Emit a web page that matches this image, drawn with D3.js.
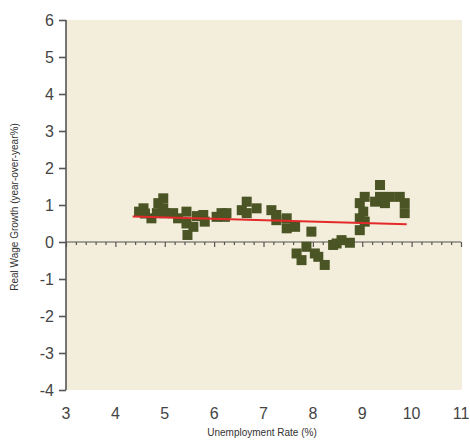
<!DOCTYPE html>
<html>
<head>
<meta charset="utf-8">
<script src="https://cdn.jsdelivr.net/npm/d3@7"></script>
<style>
body { margin: 0; background: #fff; }
text { font-family: "Liberation Sans", Arial, sans-serif; }
</style>
</head>
<body>
<svg id="chart" width="470" height="442"></svg>
<script>
// unemployment rate (%) vs real wage growth (y/y %)
const unemp = [4.48, 4.57, 4.60, 4.73, 4.84, 4.87, 4.97, 4.97, 5.00, 5.17, 5.27, 5.44, 5.44, 5.46, 5.58, 5.65, 5.78, 5.81,
	6.05, 6.15, 6.22, 6.25, 6.56, 6.66, 6.66, 6.86, 7.16, 7.26, 7.26, 7.47, 7.47, 7.64, 7.97, 7.67, 7.77, 7.87, 8.04, 8.11,
	8.24, 8.41, 8.48, 8.58, 8.75, 8.95, 8.95, 8.95, 9.02, 9.05, 9.05, 9.26, 9.36, 9.36, 9.46, 9.56, 9.76, 9.86, 9.86];
const wage = [0.82, 0.91, 0.77, 0.64, 0.78, 1.05, 1.18, 0.91, 0.78, 0.78, 0.64, 0.82, 0.50, 0.19, 0.41, 0.70, 0.73, 0.55,
	0.68, 0.78, 0.68, 0.78, 0.86, 1.09, 0.78, 0.91, 0.86, 0.73, 0.59, 0.64, 0.37, 0.41, 0.28, -0.31, -0.49, -0.13, -0.31, -0.40,
	-0.62, -0.08, -0.04, 0.05, -0.02, 0.32, 1.05, 0.64, 0.82, 1.22, 0.55, 1.09, 1.54, 1.22, 1.05, 1.22, 1.22, 1.05, 0.78];
const trendX = [4.35, 9.9];
const trendY = [0.69, 0.48];
const xTicks = [3, 4, 5, 6, 7, 8, 9, 10, 11];
const yTicks = [-4, -3, -2, -1, 0, 1, 2, 3, 4, 5, 6];

const chart = d3.select("#chart");
const margin = {left: 66, top: 20, right: 9, bottom: 52};
const width = 470, height = 442;

const x = d3.scaleLinear().domain([3, 11]).range([margin.left, width - margin.right]);
const y = d3.scaleLinear().domain([-4, 6]).range([height - margin.bottom, margin.top]);

chart.append("rect")
	.attr("x", x(3)).attr("y", y(6))
	.attr("width", x(11) - x(3) + 1).attr("height", y(-4) - y(6))
	.style("fill", "#f3eedb");

// zero line with ticks
const minor = d3.range(3, 11.001, 0.2);
const xAxis = d3.axisBottom(x).tickValues(minor).tickSize(3).tickFormat("");
const gx = chart.append("g").attr("transform", `translate(0,${y(0)})`).call(xAxis);
gx.selectAll(".tick line").attr("y2", (d) => Math.abs(d - Math.round(d)) < 0.01 ? 5 : 3);
gx.selectAll("path, line").style("stroke", "#555").style("stroke-width", 1.2);
gx.select(".domain").attr("d", `M${x(3)},0H${x(11)}`);

// x tick labels (no bottom axis line)
chart.append("g").selectAll("text")
	.data(xTicks).join("text")
	.attr("x", (d) => x(d)).attr("y", height - margin.bottom + 29)
	.style("text-anchor", "middle").style("font-size", "16px").style("fill", "#444")
	.text((d) => d);

const yAxis = d3.axisLeft(y).tickValues(yTicks).tickSize(7).tickPadding(5).tickFormat((d) => String(d));
const gy = chart.append("g").attr("transform", `translate(${margin.left},0)`).call(yAxis);
gy.selectAll("path, line").style("stroke", "#555").style("stroke-width", 1.6);
gy.select(".domain").attr("d", `M0,${y(6)}V${y(-4)}`);
gy.selectAll("text").style("font-size", "16px").style("fill", "#444")
	.style("font-family", "Liberation Sans, Arial, sans-serif");

const pts = unemp.map((u, i) => ({u: u, w: wage[i]}));
const s = 10;
chart.append("g").selectAll("rect")
	.data(pts).join("rect")
	.attr("x", (d) => x(d.u) - s / 2).attr("y", (d) => y(d.w) - s / 2)
	.attr("width", s).attr("height", s)
	.style("fill", "#4b5424");

chart.append("path")
	.datum(trendX.map((t, i) => [t, trendY[i]]))
	.attr("d", d3.line().x((d) => x(d[0])).y((d) => y(d[1])))
	.style("stroke", "#e32a2a").style("stroke-width", 2).style("fill", "none");

chart.append("text")
	.attr("transform", "rotate(-90)")
	.attr("x", -207).attr("y", 18)
	.style("text-anchor", "middle").style("font-size", "10px").style("fill", "#333")
	.style("font-family", "Liberation Sans Narrow, Liberation Sans, sans-serif")
	.text("Real Wage Growth (year-over-year%)");

chart.append("text")
	.attr("x", 262).attr("y", 436)
	.style("text-anchor", "middle").style("font-size", "10px").style("fill", "#333")
	.style("font-family", "Liberation Sans Narrow, Liberation Sans, sans-serif")
	.text("Unemployment Rate (%)");
</script>
</body>
</html>
